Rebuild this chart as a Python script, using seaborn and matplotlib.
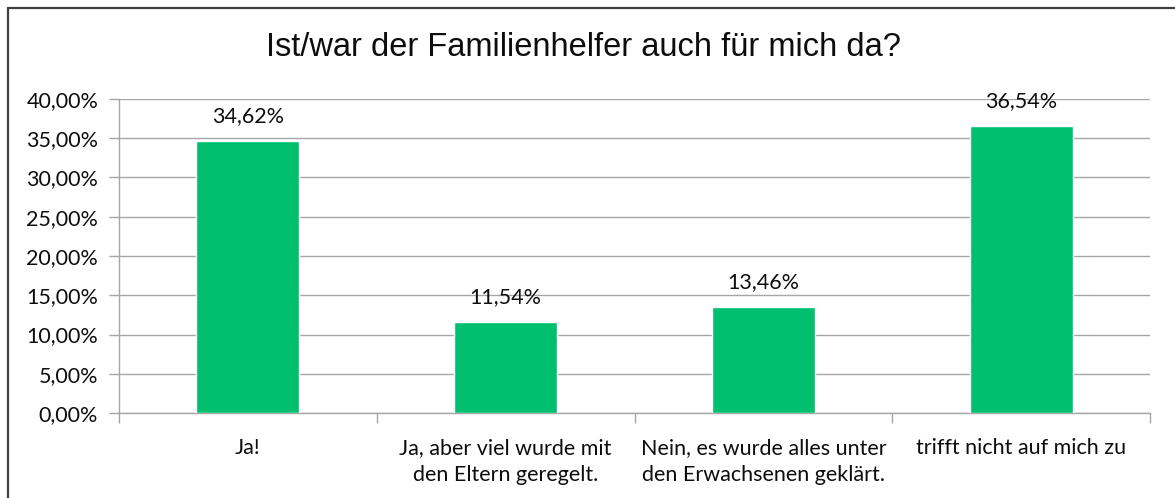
import matplotlib
matplotlib.use("Agg")
import matplotlib.pyplot as plt
from matplotlib.lines import Line2D
import seaborn as sns
import pandas as pd

categories = [
    "Ja!",
    "Ja, aber viel wurde mit\nden Eltern geregelt.",
    "Nein, es wurde alles unter\nden Erwachsenen geklärt.",
    "trifft nicht auf mich zu",
]
values = [34.62, 11.54, 13.46, 36.54]
y_ticks = [0, 5, 10, 15, 20, 25, 30, 35, 40]
title = "Ist/war der Familienhelfer auch für mich da?"

sns.set_theme(style="white")
plt.rcParams["font.family"] = ["Lato", "DejaVu Sans"]

df = pd.DataFrame({"cat": categories, "val": values})

fig = plt.figure(figsize=(11.75, 4.98), dpi=100)
ax = fig.add_axes([119 / 1175, 1 - 413 / 498, (1150 - 119) / 1175, (413 - 99) / 498])

sns.barplot(data=df, x="cat", y="val", color="#00BF6F", width=0.4,
            saturation=1, ax=ax, zorder=3)

fs = 15.5
txt = "#0d0d0d"

ax.set_ylim(0, 40)
ax.set_xlim(-0.5, len(categories) - 0.5)
ax.set_yticks(y_ticks)
ax.set_yticklabels([f"{t:.2f}%".replace(".", ",") for t in y_ticks], fontsize=fs, color=txt)
ax.yaxis.grid(True, color="#A6A6A6", linewidth=1, zorder=0)
ax.set_axisbelow(True)

# category separators as major ticks, labels centred as minor ticks
ax.set_xticks([i - 0.5 for i in range(len(categories) + 1)])
ax.set_xticklabels([])
ax.set_xticks(range(len(categories)), minor=True)
ax.set_xticklabels(categories, minor=True, fontsize=fs, color=txt, linespacing=1.45)
ax.tick_params(axis="x", which="major", direction="out", length=7, color="#A6A6A6", width=1, bottom=True)
ax.tick_params(axis="x", which="minor", length=0, pad=18)
ax.tick_params(axis="y", direction="out", length=7, color="#A6A6A6", width=1, left=True, pad=8)
ax.set_xlabel("")
ax.set_ylabel("")

for s in ["top", "right"]:
    ax.spines[s].set_visible(False)
for s in ["left", "bottom"]:
    ax.spines[s].set_color("#A6A6A6")
    ax.spines[s].set_linewidth(1)

for i, v in enumerate(values):
    ax.annotate(f"{v:.2f}%".replace(".", ","), (i, v), xytext=(0, 11),
                textcoords="offset points", ha="center", va="bottom",
                fontsize=fs, color=txt)

fig.text(584 / 1175, 1 - 47 / 498, title, ha="center", va="center",
         fontsize=23.5, family=["Liberation Sans", "DejaVu Sans"], color=txt)

# outer chart frame
fig.add_artist(Line2D([8 / 1175, 8 / 1175], [0, 1 - 8 / 498], color="#404040", linewidth=1.6))
fig.add_artist(Line2D([8 / 1175, 1], [1 - 8 / 498, 1 - 8 / 498], color="#404040", linewidth=1.6))

fig.savefig("out.png", dpi=100, facecolor="white")
